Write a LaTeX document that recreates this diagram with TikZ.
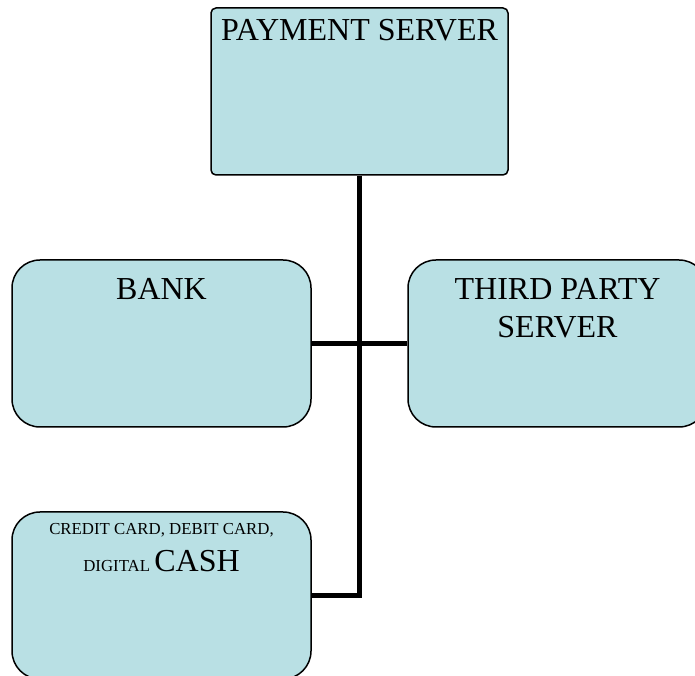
\documentclass[tikz,border=0pt]{standalone}
\usepackage{fontspec}
\setmainfont{Liberation Serif}
\definecolor{boxfill}{RGB}{185,224,228}
\begin{document}
\begin{tikzpicture}[x=1pt,y=1pt,
  box/.style={draw=black,line width=1.5pt,fill=boxfill,minimum width=299pt,minimum height=167pt,inner sep=0pt,rounded corners=28pt},
  lbl/.style={anchor=base,align=center,inner sep=0pt,font=\fontsize{32}{38}\selectfont},
  conn/.style={line width=4.5pt,black}]
\useasboundingbox (0,0) rectangle (695,676);
\clip (0,0) rectangle (695,676);
\node[box,minimum width=297pt,rounded corners=5pt] (pay) at (359.5,584.5) {};
\node[box] (bank) at (161.5,332.5) {};
\node[box] (third) at (557.5,332.5) {};
\node[box] (card) at (161.5,80.5) {};
\node[lbl] (payT) at ([yshift=-33pt]pay.north) {PAYMENT SERVER};
\node[lbl] (bankT) at ([yshift=-40pt]bank.north) {BANK};
\node[lbl] (thirdT) at ([yshift=-78pt]third.north) {THIRD PARTY\\SERVER};
\node[lbl,font=\fontsize{16.8}{37}\selectfont] (cardT) at ([yshift=-60pt]card.north) {CREDIT CARD, DEBIT CARD,\\DIGITAL {\fontsize{32}{37}\selectfont CASH}};
\coordinate (junc) at (pay.south |- card.east);
\draw[conn] (pay.south) -- (junc);
\draw[conn] (bank.east) -- (third.west);
\draw[conn,line join=miter] (card.east) -- (junc) -- ([yshift=1pt]junc);
\end{tikzpicture}
\end{document}
